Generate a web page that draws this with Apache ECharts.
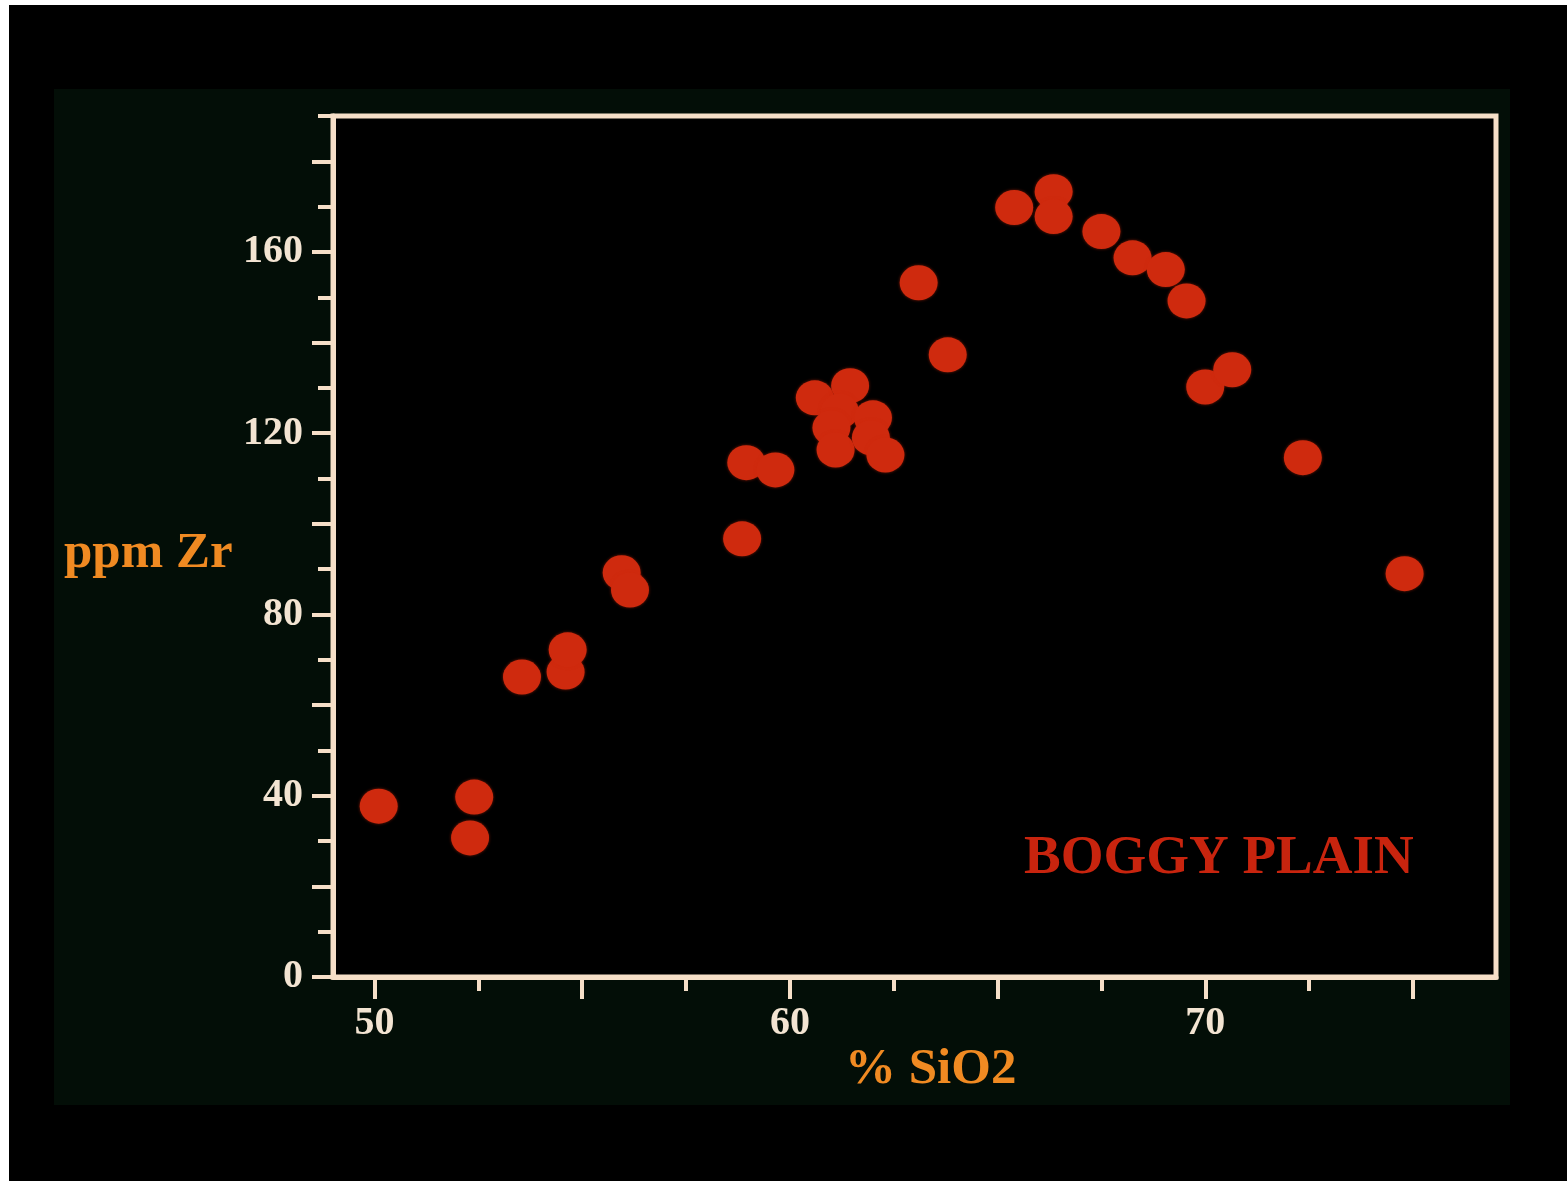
<!DOCTYPE html>
<html>
<head>
<meta charset="utf-8">
<script src="https://cdn.jsdelivr.net/npm/echarts@6/dist/echarts.min.js"></script>
<style>
  html, body { margin: 0; padding: 0; background: #ffffff; }
  #chart { width: 1567px; height: 1181px; }
</style>
</head>
<body>
<div id="chart"></div>
<script>
// % SiO2 vs ppm Zr
const sio2 = [50.1, 52.4, 52.3, 53.55, 54.6, 54.65, 55.95, 56.15, 58.85, 58.95, 59.65,
  60.6, 61.45, 61.2, 61.0, 61.1, 62.0, 61.95, 62.3, 63.1, 63.8,
  65.4, 66.35, 66.35, 67.5, 68.25, 69.05, 69.55, 70.0, 70.65, 72.35, 74.8];
const zr = [37.7, 39.7, 30.7, 66.2, 67.3, 72.2, 89.2, 85.4, 96.7, 113.5, 111.9,
  127.8, 130.5, 124.9, 121.2, 116.3, 123.4, 119.0, 115.2, 153.2, 137.3,
  169.8, 173.3, 167.8, 164.5, 158.7, 156.1, 149.2, 130.2, 134.0, 114.6, 89.0];

const xMinorTicks = [50, 52.5, 55, 57.5, 60, 62.5, 65, 67.5, 70, 72.5, 75];
const xMajorTicks = [50, 55, 60, 65, 70, 75];
const xLabels = [50, 60, 70];
const yMinorTicks = [0, 10, 20, 30, 40, 50, 60, 70, 80, 90, 100, 110, 120, 130, 140, 150, 160, 170, 180, 190];
const yMajorTicks = [0, 20, 40, 60, 80, 100, 120, 140, 160, 180];
const yLabels = [0, 40, 80, 120, 160];

const points = sio2.map((v, i) => [v, zr[i]]);

const cream = '#f6dfc8';
const labelFont = {
  color: '#f3e4d2',
  fontFamily: 'Liberation Serif',
  fontWeight: 'bold',
  fontSize: 40
};

const myChart = echarts.init(document.getElementById('chart'));
const option = {
  backgroundColor: '#ffffff',
  animation: false,
  graphic: [
    { type: 'rect', z: -10, shape: { x: 9, y: 5, width: 1558, height: 1176 }, style: { fill: '#000000' } },
    { type: 'rect', z: -9, shape: { x: 54, y: 89, width: 1456, height: 1016 }, style: { fill: '#030e07' } },
    {
      type: 'text', left: 64, top: 528,
      style: { text: 'ppm Zr', fill: '#f08a22', font: 'bold 51px "Liberation Serif"' }
    },
    {
      type: 'text', left: 845, top: 1044,
      style: { text: '% SiO2', fill: '#f08a22', font: 'bold 51px "Liberation Serif"' }
    },
    {
      type: 'text', left: 1024, top: 831,
      style: { text: 'BOGGY PLAIN', fill: '#c8240e', font: 'bold 55px "Liberation Serif"' }
    }
  ],
  grid: {
    left: 333,
    right: 71,
    top: 116,
    bottom: 204,
    show: true,
    backgroundColor: '#000000',
    borderColor: cream,
    borderWidth: 5
  },
  xAxis: [
    {
      type: 'value',
      min: 49,
      max: 77,
      position: 'bottom',
      axisLine: { show: true, lineStyle: { color: cream, width: 5 } },
      axisTick: { show: true, customValues: xMinorTicks, length: 14, lineStyle: { color: cream, width: 4 } },
      axisLabel: Object.assign({ customValues: xLabels, margin: 27 }, labelFont),
      splitLine: { show: false }
    },
    {
      type: 'value',
      min: 49,
      max: 77,
      position: 'bottom',
      offset: 0,
      axisLine: { show: false },
      axisTick: { show: true, customValues: xMajorTicks, length: 22, lineStyle: { color: cream, width: 4 } },
      axisLabel: { show: false },
      splitLine: { show: false }
    }
  ],
  yAxis: [
    {
      type: 'value',
      min: 0,
      max: 190,
      position: 'left',
      axisLine: { show: true, lineStyle: { color: cream, width: 5 } },
      axisTick: { show: true, customValues: yMinorTicks, length: 15, lineStyle: { color: cream, width: 4 } },
      axisLabel: Object.assign({ customValues: yLabels, margin: 30 }, labelFont),
      splitLine: { show: false }
    },
    {
      type: 'value',
      min: 0,
      max: 190,
      position: 'left',
      offset: 0,
      axisLine: { show: false },
      axisTick: { show: true, customValues: yMajorTicks, length: 21, lineStyle: { color: cream, width: 4 } },
      axisLabel: { show: false },
      splitLine: { show: false }
    }
  ],
  series: [
    {
      type: 'scatter',
      xAxisIndex: 0,
      yAxisIndex: 0,
      data: points,
      symbol: 'circle',
      symbolSize: [38, 35],
      itemStyle: {
        color: '#cf2a0e',
        opacity: 1,
        shadowBlur: 3,
        shadowColor: 'rgba(207, 42, 14, 0.6)'
      }
    }
  ]
};
myChart.setOption(option);
</script>
</body>
</html>
